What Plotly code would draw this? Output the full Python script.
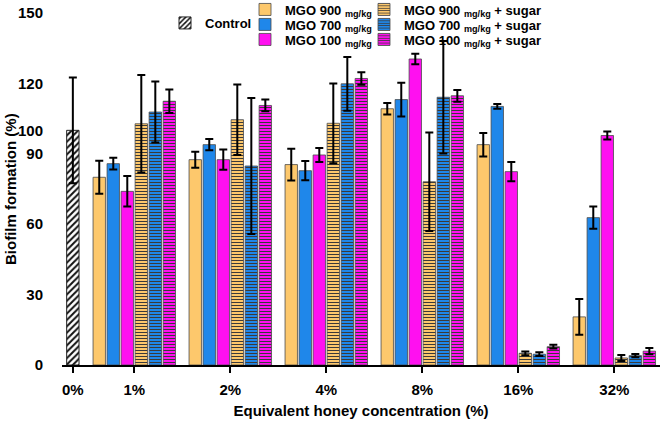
import plotly.graph_objects as go

# ---------------- data ----------------
categories = ["0%", "1%", "2%", "4%", "8%", "16%", "32%"]
group_labels = categories[1:]

control_value = [100]
control_err = [22.5]

mgo900 = [80.0, 87.5, 85.4, 109.2, 93.9, 20.5]
mgo900_err = [7.0, 3.4, 6.8, 2.5, 5.0, 7.6]
mgo700 = [85.8, 93.9, 82.8, 113.1, 110.2, 62.8]
mgo700_err = [2.5, 2.4, 4.1, 7.2, 1.0, 4.7]
mgo100 = [74.0, 87.5, 89.5, 130.4, 82.4, 97.8]
mgo100_err = [6.5, 4.3, 3.0, 2.2, 4.1, 1.7]
mgo900s = [102.8, 104.5, 103.0, 78.1, 5.0, 3.0]
mgo900s_err = [20.8, 15.0, 17.0, 21.0, 0.8, 1.3]
mgo700s = [107.8, 84.8, 119.8, 114.1, 4.6, 4.0]
mgo700s_err = [13.0, 29.0, 11.5, 24.0, 0.8, 0.7]
mgo100s = [112.4, 110.6, 122.1, 114.7, 7.8, 5.9]
mgo100s_err = [5.0, 2.5, 2.7, 2.5, 0.8, 1.3]

y_ticks = [0, 30, 60, 90, 100, 120, 150]
y_range = [0, 150]
y_title = "Biofilm formation (%)"
x_title = "Equivalent honey concentration (%)"

# ---------------- layout helpers ----------------
# axis positions of the category ticks (0% sits closer to 1%)
cat_pos = [0.36, 1, 2, 3, 4, 5, 6]
group_pos = cat_pos[1:]
PITCH = 0.146
BAR_W = 0.129

YELLOW = "#FDC86C"
BLUE = "#1F87EA"
MAGENTA = "#FF10F0"
OUTLINE = "#4a4a4a"

# each legend row holds the plain and the "+ sugar" entry of one MGO level
series = [
    ("MGO 900 <sub>mg/kg</sub>", mgo900, mgo900_err, YELLOW, False, "legend2"),
    ("MGO 700 <sub>mg/kg</sub>", mgo700, mgo700_err, BLUE, False, "legend3"),
    ("MGO 100 <sub>mg/kg</sub>", mgo100, mgo100_err, MAGENTA, False, "legend4"),
    ("MGO 900 <sub>mg/kg</sub> + sugar", mgo900s, mgo900s_err, YELLOW, True, "legend2"),
    ("MGO 700 <sub>mg/kg</sub> + sugar", mgo700s, mgo700s_err, BLUE, True, "legend3"),
    ("MGO 100 <sub>mg/kg</sub> + sugar", mgo100s, mgo100s_err, MAGENTA, True, "legend4"),
]

fig = go.Figure()

fig.add_trace(go.Bar(
    x=[cat_pos[0]], y=control_value, name="Control",
    width=BAR_W, offset=-BAR_W / 2,
    marker=dict(color="white", line=dict(color="#222222", width=1),
                pattern=dict(shape="/", fgcolor="#111111", bgcolor="white",
                             size=4.5, solidity=0.45, fillmode="replace")),
    error_y=dict(type="data", array=control_err, color="black", thickness=2, width=4),
    legend="legend",
))

for i, (name, vals, errs, col, sugar, lg) in enumerate(series):
    marker = dict(color=col, line=dict(color=OUTLINE, width=0.8))
    if sugar:
        marker["pattern"] = dict(shape="-", fgcolor="#3a3a3a", bgcolor=col, size=3,
                                 solidity=0.35, fillmode="replace")
    fig.add_trace(go.Bar(
        x=group_pos, y=vals, name=name,
        width=BAR_W, offset=(i - 3) * PITCH + (PITCH - BAR_W) / 2,
        marker=marker,
        error_y=dict(type="data", array=errs, color="black", thickness=2, width=4),
        legend=lg,
        legendwidth=170 if sugar else 74,
    ))

H = 429.0
W = 666.0
M_L, M_R, M_T, M_B = 62, 6, 13, 64


def leg(x_px, y_px, horizontal):
    d = dict(
        bgcolor="rgba(0,0,0,0)", borderwidth=0,
        font=dict(size=13, color="black", family="Liberation Sans", weight="bold"),
        itemwidth=30, tracegroupgap=0,
        xref="container", yref="container",
        x=x_px / W, y=1 - y_px / H, xanchor="left", yanchor="middle",
        itemclick=False, itemdoubleclick=False,
    )
    if horizontal:
        d.update(orientation="h")
    return d


fig.update_layout(
    width=666, height=429,
    margin=dict(l=M_L, r=M_R, t=M_T, b=M_B, autoexpand=False),
    paper_bgcolor="white", plot_bgcolor="white",
    barmode="overlay",
    font=dict(family="Liberation Sans", size=15, color="black", weight="bold"),
    showlegend=True,
    legend=leg(165, 23, False),
    legend2=leg(245, 9.5, True),
    legend3=leg(245, 24.5, True),
    legend4=leg(245, 39.5, True),
    xaxis=dict(
        range=[0.247, 6.476], automargin=True,
        tickmode="array", tickvals=cat_pos, ticktext=categories,
        showline=True, linecolor="black", linewidth=2,
        ticks="outside", ticklen=6, tickwidth=2, tickcolor="black",
        ticklabelstandoff=4,
        showgrid=False, zeroline=False,
        tickfont=dict(size=15, weight="bold"),
        title=dict(text=x_title, font=dict(size=15, weight="bold"), standoff=8),
    ),
    # tick labels; its (invisible) long ticks keep the labels clear of the axis
    yaxis=dict(
        range=y_range,
        tickmode="array", tickvals=y_ticks,
        showline=False,
        ticks="outside", ticklen=15, tickwidth=2, tickcolor="rgba(0,0,0,0)",
        showgrid=False, zeroline=False,
        tickfont=dict(size=15, weight="bold"),
    ),
    # the visible axis line and short ticks
    yaxis2=dict(
        range=y_range, overlaying="y", anchor="x", side="left",
        tickmode="array", tickvals=y_ticks, showticklabels=False,
        showline=True, linecolor="black", linewidth=2,
        ticks="outside", ticklen=6, tickwidth=2, tickcolor="black",
        showgrid=False, zeroline=False,
    ),
    annotations=[dict(
        text=y_title, textangle=-90, showarrow=False,
        xref="paper", yref="paper",
        x=(10 - M_L) / (W - M_L - M_R), y=0.5,
        xanchor="center", yanchor="middle",
        font=dict(size=15, weight="bold", color="black"),
    )],
)

fig.write_html("out.html", post_script="document.body.style.margin='0';",
               config={"displayModeBar": False})
